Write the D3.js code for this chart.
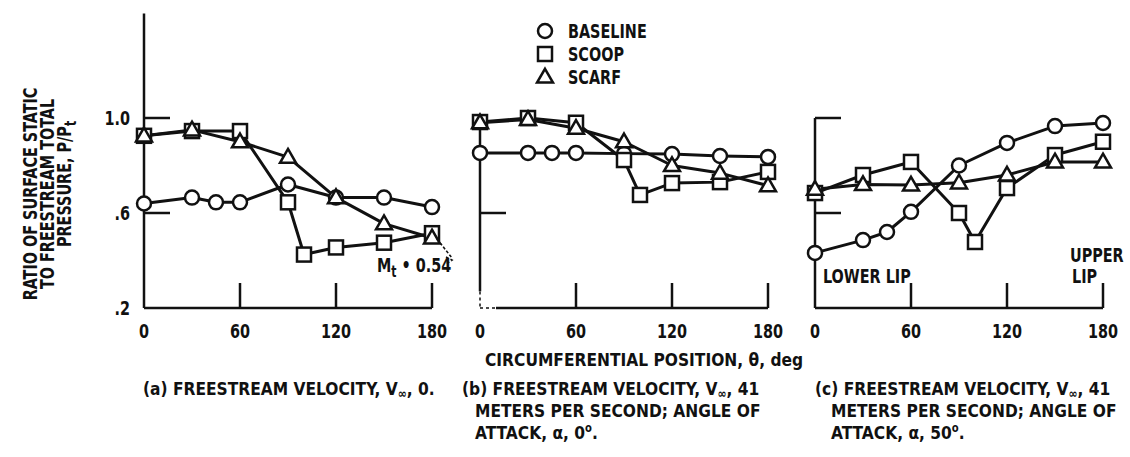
<!DOCTYPE html>
<html>
<head>
<meta charset="utf-8">
<title>Surface static pressure</title>
<script src="https://d3js.org/d3.v7.min.js"></script>
<style>
  body { margin: 0; background: #fff; }
  svg text {
    font-family: "DejaVu Sans Condensed", "DejaVu Sans", sans-serif;
    font-stretch: condensed;
    font-weight: bold;
    font-size: 20px;
    fill: #111;
  }
  svg text.larga { font-size: 18.5px; }
  .axis { stroke: #111; stroke-width: 2.5; fill: none; }
  .serie { stroke: #111; stroke-width: 3; fill: none; stroke-linejoin: round; }
  .marca { stroke: #111; stroke-width: 2.5; fill: #fff; }
</style>
</head>
<body>
<div id="chart"></div>
<script>
// posicoes circunferenciais (graus) de cada configuracao
var thetaBaseline = [0, 30, 45, 60, 90, 120, 150, 180];
var thetaScoop    = [0, 30, 60, 90, 100, 120, 150, 180];
var thetaScarf    = [0, 30, 60, 90, 120, 150, 180];

// (a) V = 0
var baselineA = [0.64, 0.665, 0.645, 0.645, 0.72, 0.665, 0.665, 0.625];
var scoopA    = [0.925, 0.945, 0.945, 0.645, 0.425, 0.455, 0.475, 0.515];
var scarfA    = [0.925, 0.95, 0.90, 0.835, 0.665, 0.555, 0.495];

// (b) V = 41 m/s, alfa = 0
var baselineB = [0.853, 0.853, 0.853, 0.853, 0.85, 0.848, 0.84, 0.836];
var scoopB    = [0.983, 1.0, 0.98, 0.823, 0.676, 0.726, 0.73, 0.773];
var scarfB    = [0.98, 0.994, 0.957, 0.90, 0.80, 0.768, 0.715];

// (c) V = 41 m/s, alfa = 50
var baselineC = [0.432, 0.486, 0.52, 0.605, 0.80, 0.895, 0.966, 0.979];
var scoopC    = [0.684, 0.76, 0.815, 0.60, 0.478, 0.705, 0.844, 0.90];
var scarfC    = [0.70, 0.72, 0.718, 0.727, 0.76, 0.815, 0.815];

var xTicks = [0, 60, 120, 180];
var yTicks = [0.2, 0.6, 1.0];
var yTickLabels = [".2", ".6", "1.0"];
var legendNames = ["BASELINE", "SCOOP", "SCARF"];

var largura = 1130, altura = 457;
var svg = d3.select("#chart").append("svg")
  .attr("width", largura).attr("height", altura);

var y = d3.scaleLinear().domain([0.2, 1.0]).range([308, 118]);

var paineis = [
  {x0: 144, base: baselineA, scoop: scoopA, scarf: scarfA, topo: 1.44, marcasY: [1.0, 0.6]},
  {x0: 480, base: baselineB, scoop: scoopB, scarf: scarfB, topo: 1.013, marcasY: [0.6], tracejado: true},
  {x0: 815, base: baselineC, scoop: scoopC, scarf: scarfC, topo: 1.0, marcasY: [1.0, 0.6]}
];

var triangulo = d3.symbol().type(d3.symbolTriangle).size(110);

function desenhaMarca(g, tipo, cx, cy) {
  if (tipo === 0) {
    g.append("circle").attr("class", "marca").attr("cx", cx).attr("cy", cy).attr("r", 7);
  } else if (tipo === 1) {
    g.append("rect").attr("class", "marca")
      .attr("x", cx - 7).attr("y", cy - 7).attr("width", 14).attr("height", 14);
  } else {
    g.append("path").attr("class", "marca").attr("d", triangulo)
      .attr("transform", "translate(" + cx + "," + (cy + 1) + ")");
  }
}

paineis.forEach(function(p, i) {
  var x = d3.scaleLinear().domain([0, 180]).range([p.x0, p.x0 + 288]);
  var g = svg.append("g");

  // eixos
  if (p.tracejado) {
    g.append("line").attr("class", "axis")
      .attr("x1", x(0)).attr("x2", x(0)).attr("y1", y(p.topo)).attr("y2", y(0.27));
    g.append("line").attr("class", "axis").attr("stroke-dasharray", "3,3").style("stroke-width", 1.5)
      .attr("x1", x(0)).attr("x2", x(0)).attr("y1", y(0.27)).attr("y2", y(0.2));
    g.append("line").attr("class", "axis").attr("stroke-dasharray", "3,3").style("stroke-width", 1.5)
      .attr("x1", x(0)).attr("x2", x(10)).attr("y1", y(0.2)).attr("y2", y(0.2));
    g.append("line").attr("class", "axis")
      .attr("x1", x(10)).attr("x2", x(180)).attr("y1", y(0.2)).attr("y2", y(0.2));
  } else {
    g.append("line").attr("class", "axis")
      .attr("x1", x(0)).attr("x2", x(0)).attr("y1", y(p.topo)).attr("y2", y(0.2));
    g.append("line").attr("class", "axis")
      .attr("x1", x(0)).attr("x2", x(180)).attr("y1", y(0.2)).attr("y2", y(0.2));
  }

  // marcas internas do eixo x
  g.selectAll("line.tx").data(xTicks.slice(1)).enter().append("line")
    .attr("class", "axis tx")
    .attr("x1", d => x(d)).attr("x2", d => x(d))
    .attr("y1", y(0.2)).attr("y2", y(0.2) - 25);

  // marcas internas do eixo y
  g.selectAll("line.ty").data(p.marcasY).enter().append("line")
    .attr("class", "axis ty")
    .attr("x1", x(0)).attr("x2", x(0) + 26)
    .attr("y1", d => y(d)).attr("y2", d => y(d));

  // rotulos do eixo x
  g.selectAll("text.lx").data(xTicks).enter().append("text")
    .attr("class", "lx")
    .attr("x", d => x(d)).attr("y", 338)
    .attr("text-anchor", "middle")
    .text(d => d);

  // rotulos do eixo y so no primeiro painel
  if (i === 0) {
    g.selectAll("text.ly").data(yTicks).enter().append("text")
      .attr("class", "ly")
      .attr("x", x(0) - 14).attr("y", d => y(d) + 7)
      .attr("text-anchor", "end")
      .text((d, k) => yTickLabels[k]);
  }

  var series = [
    {th: thetaBaseline, v: p.base, tipo: 0},
    {th: thetaScoop, v: p.scoop, tipo: 1},
    {th: thetaScarf, v: p.scarf, tipo: 2}
  ];

  var linha = d3.line().x(d => x(d[0])).y(d => y(d[1]));

  series.forEach(function(s) {
    var pts = s.th.map((t, k) => [t, s.v[k]]);
    g.append("path").attr("class", "serie").attr("d", linha(pts));
  });
  series.forEach(function(s) {
    s.th.forEach(function(t, k) { desenhaMarca(g, s.tipo, x(t), y(s.v[k])); });
  });
});

// legenda
var leg = svg.append("g");
legendNames.forEach(function(nome, k) {
  var cy = 31 + k * 23;
  desenhaMarca(leg, k, 545, cy);
  leg.append("text").attr("x", 568).attr("y", cy + 7).text(nome);
});

// titulo do eixo y
var tituloY = [
  {t: "RATIO OF SURFACE STATIC", x: 37, c: 194},
  {t: "TO FREESTREAM TOTAL", x: 54, c: 194},
  {t: "PRESSURE, P/P", x: 71, c: 184, sub: "t"}
];
tituloY.forEach(function(l) {
  var tx = svg.append("text")
    .attr("transform", "translate(" + l.x + "," + l.c + ") rotate(-90)")
    .attr("text-anchor", "middle")
    .text(l.t);
  if (l.sub) tx.append("tspan").attr("dy", 5).style("font-size", "15px").text(l.sub);
});

// anotacoes
var mt = svg.append("text").attr("x", 377).attr("y", 272);
mt.append("tspan").text("M");
mt.append("tspan").attr("dy", 5).style("font-size", "15px").text("t");
mt.append("tspan").attr("dy", -5).text(" \u2022 0.54");
svg.append("path").attr("d", "M437,239 L452,258 M446,257 L452,260 L446,264")
  .attr("fill", "none").attr("stroke", "#111").attr("stroke-width", 1.6).attr("stroke-dasharray", "3,2");

svg.append("text").attr("x", 823).attr("y", 283).text("LOWER LIP");
svg.append("text").attr("x", 1070).attr("y", 262).text("UPPER");
svg.append("text").attr("x", 1072).attr("y", 283).text("LIP");

svg.append("text").attr("class", "larga").attr("x", 485).attr("y", 366)
  .text("CIRCUMFERENTIAL POSITION, \u03b8, deg");

// legendas dos paineis
function vInf(t, antes, depois) {
  t.append("tspan").text(antes + "V");
  t.append("tspan").attr("dy", 3).style("font-size", "13px").text("\u221e");
  t.append("tspan").attr("dy", -3).text(depois);
}
function linhaLegenda(x, yy) {
  return svg.append("text").attr("class", "larga").attr("x", x).attr("y", yy);
}
vInf(linhaLegenda(143, 395), "(a) FREESTREAM VELOCITY, ", ", 0.");

vInf(linhaLegenda(462, 395), "(b) FREESTREAM VELOCITY, ", ", 41");
linhaLegenda(475, 417).text("METERS PER SECOND; ANGLE OF");
var cb3 = linhaLegenda(475, 439).text("ATTACK, \u03b1, 0");
cb3.append("tspan").attr("dy", -7).style("font-size", "12px").text("o");
cb3.append("tspan").attr("dy", 7).text(".");

vInf(linhaLegenda(815, 395), "(c) FREESTREAM VELOCITY, ", ", 41");
linhaLegenda(831, 417).text("METERS PER SECOND; ANGLE OF");
var cc3 = linhaLegenda(831, 439).text("ATTACK, \u03b1, 50");
cc3.append("tspan").attr("dy", -7).style("font-size", "12px").text("o");
cc3.append("tspan").attr("dy", 7).text(".");

// a letra do original e ainda mais estreita: escala horizontal em cada texto
svg.selectAll("text").each(function() {
  var el = d3.select(this);
  var fator = el.classed("larga") ? 0.93 : 0.8;
  var tx = +el.attr("x") || 0, ty = +el.attr("y") || 0;
  var antes = el.attr("transform") || "";
  el.attr("x", null).attr("y", null)
    .attr("transform", antes + " translate(" + tx + "," + ty + ") scale(" + fator + ",1)");
});
</script>
</body>
</html>
